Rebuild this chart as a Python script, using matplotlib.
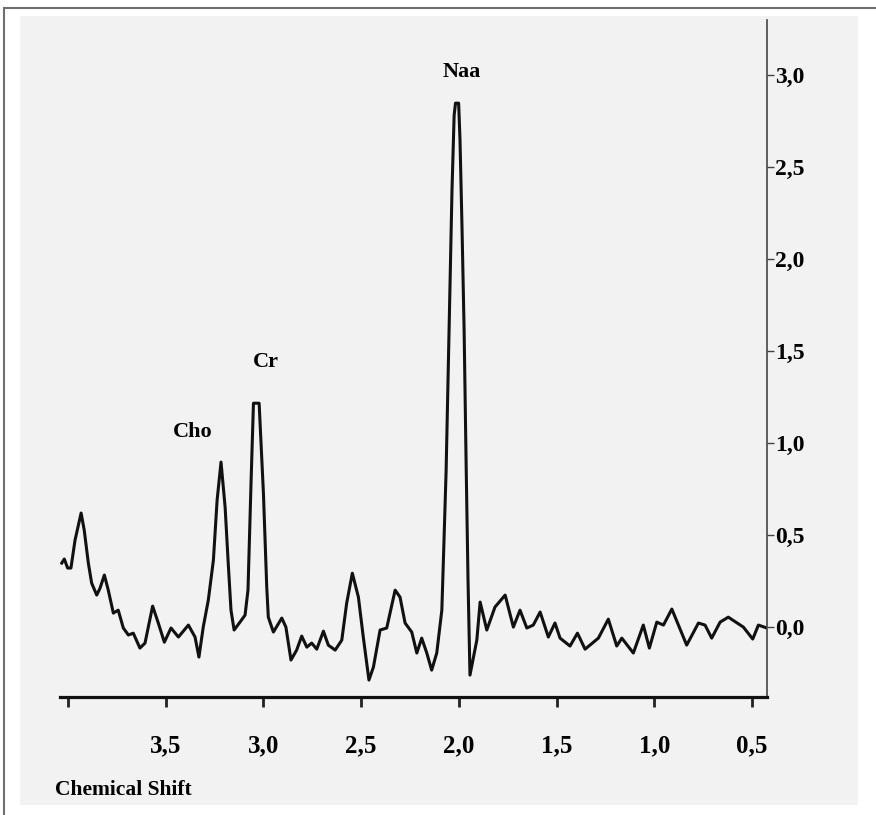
import numpy as np
import matplotlib.pyplot as plt
from matplotlib.patches import Rectangle

# spectrum (ppm, amplitude)
shift = [4.032, 4.019, 4.002, 3.985, 3.964, 3.933, 3.917, 3.896, 3.879, 3.853,
         3.836, 3.814, 3.794, 3.768, 3.743, 3.717, 3.691, 3.666, 3.632, 3.606,
         3.567, 3.538, 3.507, 3.473, 3.435, 3.384, 3.350, 3.330, 3.308, 3.282,
         3.256, 3.237, 3.217, 3.196, 3.181, 3.166, 3.150, 3.120, 3.094, 3.079,
         3.063, 3.051, 3.022, 3.000, 2.983, 2.975, 2.949, 2.906, 2.885, 2.859,
         2.830, 2.804, 2.778, 2.753, 2.727, 2.693, 2.668, 2.633, 2.599, 2.574,
         2.545, 2.514, 2.489, 2.460, 2.437, 2.403, 2.369, 2.326, 2.301, 2.275,
         2.241, 2.215, 2.190, 2.164, 2.139, 2.113, 2.087, 2.079, 2.065, 2.050,
         2.035, 2.024, 2.017, 2.001, 1.994, 1.984, 1.973, 1.963, 1.953, 1.943,
         1.908, 1.891, 1.857, 1.815, 1.763, 1.721, 1.687, 1.652, 1.619, 1.584,
         1.542, 1.508, 1.482, 1.431, 1.393, 1.354, 1.286, 1.235, 1.192, 1.166,
         1.107, 1.056, 1.025, 0.987, 0.953, 0.910, 0.834, 0.774, 0.740, 0.706,
         0.663, 0.621, 0.544, 0.496, 0.467, 0.424]
amplitude = [0.348, 0.370, 0.321, 0.321, 0.473, 0.620, 0.527, 0.348, 0.239, 0.174,
             0.212, 0.283, 0.201, 0.076, 0.092, -0.005, -0.043, -0.033, -0.114, -0.087,
             0.114, 0.022, -0.082, -0.005, -0.054, 0.011, -0.054, -0.163, 0.000, 0.147,
             0.364, 0.690, 0.897, 0.652, 0.364, 0.092, -0.016, 0.027, 0.065, 0.201,
             0.799, 1.217, 1.217, 0.728, 0.217, 0.054, -0.027, 0.049, 0.000, -0.179,
             -0.125, -0.049, -0.109, -0.087, -0.120, -0.022, -0.098, -0.125, -0.071, 0.130,
             0.293, 0.163, -0.054, -0.288, -0.217, -0.016, -0.005, 0.201, 0.163, 0.022,
             -0.027, -0.141, -0.060, -0.141, -0.234, -0.141, 0.092, 0.364, 0.853, 1.614,
             2.375, 2.783, 2.848, 2.848, 2.647, 2.185, 1.614, 0.908, 0.255, -0.261,
             -0.071, 0.136, -0.016, 0.109, 0.174, 0.000, 0.092, -0.005, 0.011, 0.082,
             -0.054, 0.022, -0.060, -0.103, -0.033, -0.120, -0.060, 0.043, -0.103, -0.060,
             -0.141, 0.011, -0.114, 0.027, 0.011, 0.098, -0.098, 0.022, 0.011, -0.060,
             0.027, 0.054, 0.000, -0.065, 0.011, -0.005]

peak_names = ['Cho', 'Cr', 'Naa']
peak_x = [3.36, 2.987, 1.984]
peak_y = [1.06, 1.44, 3.016]

xticks = [4.0, 3.5, 3.0, 2.5, 2.0, 1.5, 1.0, 0.5]
xtick_labels = ['', '3,5', '3,0', '2,5', '2,0', '1,5', '1,0', '0,5']
yticks = [0.0, 0.5, 1.0, 1.5, 2.0, 2.5, 3.0]
ytick_labels = ['0,0', '0,5', '1,0', '1,5', '2,0', '2,5', '3,0']

W, H = 876, 815
fig = plt.figure(figsize=(W / 100, H / 100), dpi=100, facecolor='white')
plt.rcParams['font.family'] = ['Liberation Serif', 'DejaVu Serif']

# page background and frame
fig.patches.append(Rectangle((20 / W, 1 - 805 / H), 838 / W, 789 / H,
                             transform=fig.transFigure, facecolor='#f2f2f2',
                             edgecolor='none', zorder=-2))
fig.patches.append(Rectangle((4 / W, -0.05), 1.1, 1.05 - 8 / H,
                             transform=fig.transFigure, facecolor='none',
                             edgecolor='#6e6e6e', lw=1.5, zorder=-1))

ax = fig.add_axes([60 / W, 1 - 697 / H, 707 / W, 677 / H])
ax.set_zorder(2)
ax.set_facecolor('none')
ax.plot(shift, amplitude, color='#111111', lw=2.2, solid_joinstyle='round')

ax.set_xlim(4.041, 0.423)
ax.set_ylim(-0.38, 3.30)

for s in ['top', 'left']:
    ax.spines[s].set_visible(False)
ax.spines['bottom'].set_linewidth(2.3)
ax.spines['bottom'].set_color('#111111')
ax.spines['right'].set_linewidth(1.2)
ax.spines['right'].set_color('#444444')

ax.set_xticks(xticks)
ax.set_xticklabels(xtick_labels, fontsize=18, fontweight='bold')
ax.tick_params(axis='x', direction='out', length=7, width=2, color='#222222', pad=20)

ax.yaxis.tick_right()
ax.set_yticks(yticks)
ax.set_yticklabels(ytick_labels, fontsize=17, fontweight='bold')
ax.tick_params(axis='y', direction='out', length=5, width=1, color='#444444', pad=1)

for name, x, y in zip(peak_names, peak_x, peak_y):
    ax.text(x, y, name, ha='center', va='center', fontsize=16, fontweight='bold')

fig.text(55 / W, 1 - 790 / H, 'Chemical Shift', ha='left', va='center',
         fontsize=15.5, fontweight='bold')

fig.savefig('out.png', dpi=100, facecolor=fig.get_facecolor())
